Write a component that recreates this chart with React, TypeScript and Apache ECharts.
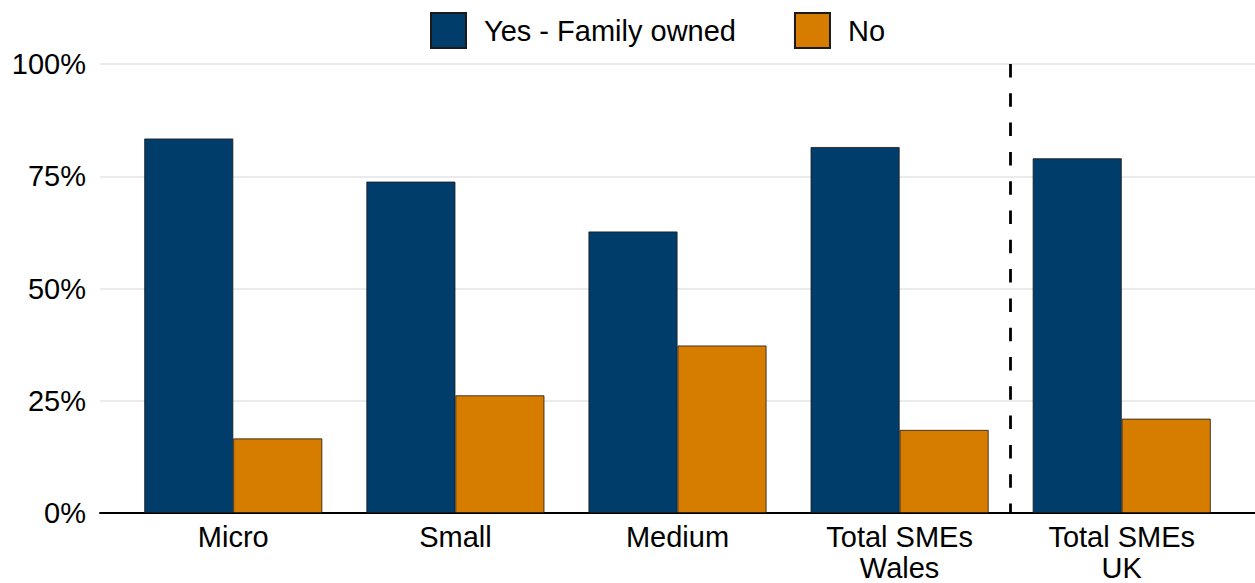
import React, { useEffect, useRef } from "react";
import * as echarts from "echarts";

const categories = ["Micro", "Small", "Medium", "Total SMEs\nWales", "Total SMEs\nUK"];
const yesValues = [83.4, 73.8, 62.7, 81.5, 79.0];
const noValues = [16.6, 26.2, 37.3, 18.5, 21.0];
const yTicks = [0, 25, 50, 75, 100];
const seriesNames = ["Yes - Family owned", "No"];
const separatorAt = 4.5;

const FONT = "Liberation Sans, Arial, sans-serif";

export default function App() {
  const ref = useRef<HTMLDivElement>(null);
  useEffect(() => {
    if (!ref.current) return;
    const chart = echarts.init(ref.current, null, { renderer: "svg" });
    const xPos = categories.map((_, i) => i + 1);
    chart.setOption({
      animation: false,
      textStyle: { fontFamily: FONT },
      legend: {
        top: 7,
        left: 425,
        icon: "rect",
        itemWidth: 35,
        itemHeight: 35,
        itemGap: 58,
        data: seriesNames,
        textStyle: { fontSize: 29, color: "#000", fontFamily: FONT, padding: [0, 0, 0, 13] },
      },
      grid: { left: 100, right: 0, top: 64, bottom: 66, containLabel: false },
      xAxis: {
        type: "value",
        min: 0.4,
        max: 5.6,
        axisLine: { show: true, onZero: false, lineStyle: { color: "#000", width: 2 } },
        axisTick: { show: false },
        splitLine: { show: false },
        axisLabel: {
          customValues: xPos,
          formatter: (v: number) => categories[Math.round(v) - 1] ?? "",
          fontSize: 29,
          lineHeight: 31,
          color: "#000",
          margin: 8,
          fontFamily: FONT,
        },
      },
      yAxis: {
        type: "value",
        min: 0,
        max: 100,
        interval: 25,
        axisLine: { show: false },
        axisTick: { show: false },
        splitLine: { show: true, lineStyle: { color: "#EBEBEB", width: 2 } },
        axisLabel: {
          formatter: (v: number) => (yTicks.includes(v) ? v + "%" : ""),
          fontSize: 29,
          color: "#000",
          margin: 14,
          fontFamily: FONT,
        },
      },
      series: [
        {
          name: seriesNames[0],
          type: "bar",
          barWidth: 89,
          barGap: "0%",
          data: xPos.map((x, i) => [x, yesValues[i]]),
          itemStyle: { color: "#003D6B", borderColor: "#1a1a1a", borderWidth: 0.8 },
        },
        {
          name: seriesNames[1],
          type: "bar",
          barWidth: 89,
          barGap: "0%",
          data: xPos.map((x, i) => [x, noValues[i]]),
          itemStyle: { color: "#D67D00", borderColor: "#1a1a1a", borderWidth: 0.8 },
        },
        {
          name: "separator",
          type: "line",
          data: [],
          silent: true,
          markLine: {
            silent: true,
            symbol: "none",
            label: { show: false },
            lineStyle: { color: "#000", width: 2.8, type: [13.5, 15.8] },
            data: [[{ coord: [separatorAt, 100] }, { coord: [separatorAt, 0] }]],
          },
        },
      ],
    });
    return () => chart.dispose();
  }, []);
  return <div ref={ref} style={{ width: 1255, height: 583, position: "absolute", left: 0, top: 0 }} />;
}
